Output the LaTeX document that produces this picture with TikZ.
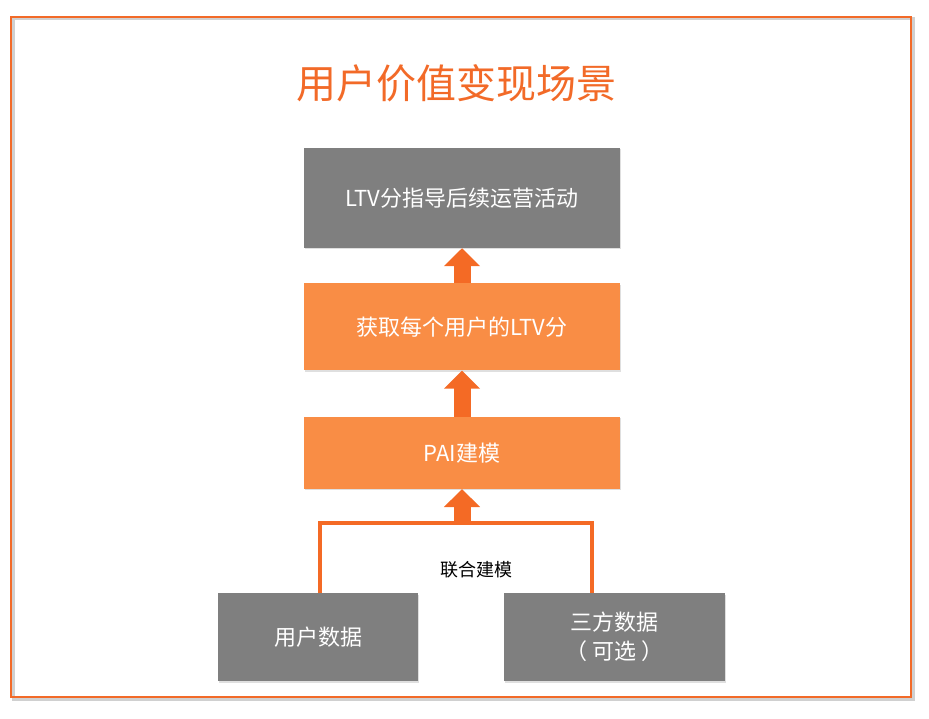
\documentclass[tikz,border=0pt]{standalone}
\usepackage{fontspec}
\newfontfamily\cjk{Noto Sans CJK SC}
\usepackage{tikz}
\usetikzlibrary{arrows.meta,positioning,shadows}
\usepackage{xcolor}
\definecolor{titleorange}{HTML}{F26A28}
\definecolor{boxorange}{HTML}{F98D45}
\definecolor{arroworange}{HTML}{F46A25}
\definecolor{boxgray}{HTML}{7F7F7F}
\definecolor{framegray}{HTML}{D0D0D0}

\begin{document}
\begin{tikzpicture}[
  x=1pt, y=-1pt,
  font=\cjk,
  node distance=35pt,
  card/.style 2 args={
    fill=#1,
    text=white,
    minimum width=#2,
    inner sep=0pt,
    align=center,
    drop shadow={shadow xshift=1pt, shadow yshift=-1.5pt, opacity=0.25},
    font=\cjk\fontsize{22}{29}\selectfont
  },
  uparrow/.style={
    draw=arroworange, line width=17pt,
    -{Triangle[width=35pt,length=18pt]}
  }
]

  % Page and frame
  \useasboundingbox (0,0) rectangle (929,719);
  \draw[framegray, line width=3pt] (13,19) rectangle (913,699);
  \draw[titleorange, line width=1.5pt] (11,17) rectangle (911,697);

  % Title
  \node[text=titleorange, font=\cjk\fontsize{40}{42}\selectfont] (title) at (456,83) {用户价值变现场景};

  % Chain of steps, top to bottom
  \node[card={boxgray}{316pt}, minimum height=100pt] (ops) at (462,198) {LTV分指导后续运营活动};
  \node[card={boxorange}{316pt}, minimum height=87pt, below=35pt of ops] (score) {获取每个用户的LTV分};
  \node[card={boxorange}{316pt}, minimum height=72pt, below=46pt of score] (pai) {PAI建模};

  % Data sources
  \node[card={boxgray}{200pt}, minimum height=88pt] (userdata) at (318,637) {用户数据};
  \node[card={boxgray}{221pt}, minimum height=88pt] (thirddata) at (614.5,637) {三方数据\\（ 可选 ）};

  % Joint modelling bracket
  \coordinate (join) at (pai.south |- 0,523);
  \coordinate (rightleg) at (592,0);
  \draw[arroworange, line width=4pt] (userdata.north -| 320,0) |- (join) -| (rightleg |- thirddata.north);
  \node[font=\cjk\fontsize{18}{20}\selectfont] (jointlabel) at (476,570) {联合建模};

  % Block arrows between the steps
  \fill[arroworange] ([xshift=-8.5pt]join) rectangle ([xshift=8.5pt,yshift=-2pt]join);
  \draw[uparrow] (join) -- (pai.south);
  \draw[uparrow] (pai.north) -- (score.south);
  \draw[uparrow] (score.north) -- (ops.south);

\end{tikzpicture}
\end{document}
